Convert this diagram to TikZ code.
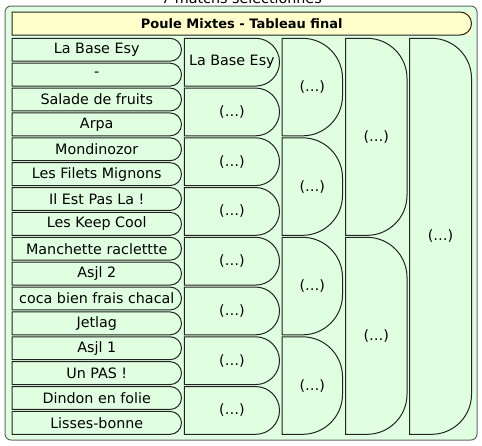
\documentclass[tikz,border=0pt]{standalone}
\usepackage{fontspec}
\setmainfont{DejaVu Sans}
\definecolor{bggreen}{HTML}{E0FFE0}
\definecolor{titleyellow}{HTML}{FFFFCC}
\definecolor{edge}{HTML}{222222}
\definecolor{outeredge}{HTML}{666666}
\tikzset{
  boxtext/.style={inner sep=0pt, outer sep=0pt, font=\fontsize{14.3}{17}\selectfont, text=black},
  boxline/.style={draw=edge, line width=1pt},
}
% name, x1, y1, x2, y2 (px, y downward), radius, text
\newcommand\rbox[7]{%
  \node[boxtext, minimum width={#4-#2}, minimum height={#5-#3}] (#1) at ({(#2+#4)/2},{-(#3+#5)/2}) {#7};
  \draw[boxline] (#1.north west) -- ([xshift=-#6pt]#1.north east)
    arc[start angle=90, end angle=0, radius=#6pt]
    -- ([yshift=#6pt]#1.south east)
    arc[start angle=0, end angle=-90, radius=#6pt]
    -- (#1.south west) -- cycle;
}
\begin{document}
\begin{tikzpicture}[x=1pt,y=1pt]
\useasboundingbox (0,0) rectangle (482,-445);
\clip (0,0) rectangle (482,-445);
\fill[white] (0,0) rectangle (482,-445);
\node[boxtext, anchor=base] (count) at (241.5,-3) {7 matchs sélectionnés};
\node[fill=bggreen, draw=outeredge, line width=1pt, rounded corners=6pt, minimum width=472pt, minimum height=434pt, inner sep=0pt, outer sep=0pt] (frame) at (241,-223) {};
% title
\node[fill=titleyellow, minimum width=459.5pt, minimum height=23pt, inner sep=0pt, outer sep=0pt, font=\bfseries\fontsize{13}{16}\selectfont] (title) at (241.75,-23.5) {Poule Mixtes - Tableau final};
\draw[boxline] (title.north west) -- ([xshift=-11.5pt]title.north east)
  arc[start angle=90, end angle=-90, radius=11.5pt] -- (title.south west) -- cycle;
% round 1
\foreach \t [count=\i from 0] in {La Base Esy, -, Salade de fruits, Arpa, Mondinozor, Les Filets Mignons, Il Est Pas La !, Les Keep Cool, Manchette raclettte, Asjl 2, coca bien frais chacal, Jetlag, Asjl 1, Un PAS !, Dindon en folie, Lisses-bonne} {
  \pgfmathsetmacro\ta{38.3+\i*24.875}
  \pgfmathsetmacro\tb{\ta+22.9}
  \rbox{r1-\i}{12}{\ta}{181.5}{\tb}{11.45}{\t}
}
% later rounds
\foreach \k/\s/\xa/\xb in {2/2/184.3/279.5, 3/4/282/342.5, 4/8/345.5/407, 5/16/409.5/471.5} {
  \pgfmathtruncatemacro\n{16/\s-1}
  \foreach \j in {0,...,\n} {
    \pgfmathsetmacro\ta{38.3+\j*\s*24.875}
    \pgfmathsetmacro\tb{38.3+(\j*\s+\s-1)*24.875+22.9}
    \pgfmathsetmacro\rr{min(40,(\tb-\ta)/2)}
    \ifnum\k=2 \ifnum\j=0 \def\lbl{La Base Esy}\else\def\lbl{(…)}\fi\else\def\lbl{(…)}\fi
    \rbox{r\k-\j}{\xa}{\ta}{\xb}{\tb}{\rr}{\lbl}
  }
}
\end{tikzpicture}
\end{document}
